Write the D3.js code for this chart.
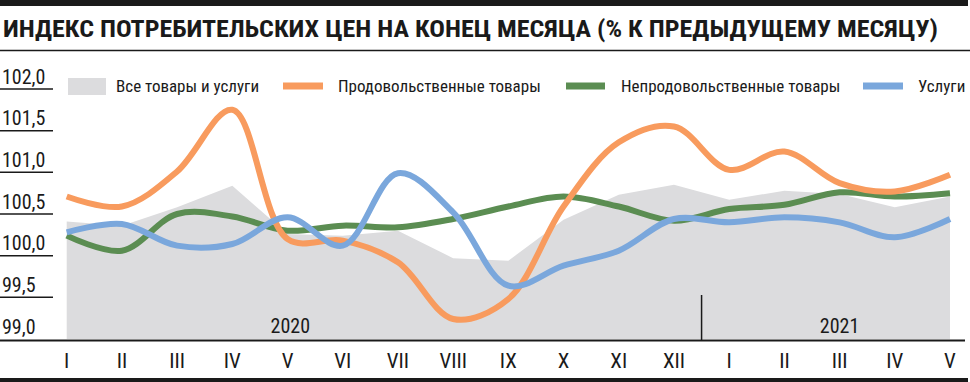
<!DOCTYPE html>
<html><head><meta charset="utf-8">
<script src="https://cdn.jsdelivr.net/npm/d3@7"></script>
<style>
html,body{margin:0;padding:0;background:#fff;}
svg text{font-family:"Liberation Sans Narrow","Roboto Condensed","DejaVu Sans Condensed",sans-serif;fill:#1a1a1a;}
</style></head>
<body>
<svg id="c" width="970" height="382"></svg>
<script>
const title = "ИНДЕКС ПОТРЕБИТЕЛЬСКИХ ЦЕН НА КОНЕЦ МЕСЯЦА (% К ПРЕДЫДУЩЕМУ МЕСЯЦУ)";
const months = ["I","II","III","IV","V","VI","VII","VIII","IX","X","XI","XII","I","II","III","IV","V"];
const years = [{label:"2020", from:0, to:11},{label:"2021", from:12, to:16}];
const yTicks = [99.0, 99.5, 100.0, 100.5, 101.0, 101.5, 102.0];
const seriesNames = ["Все товары и услуги","Продовольственные товары","Непродовольственные товары","Услуги"];
const allGoods = [100.41,100.36,100.58,100.84,100.26,100.24,100.30,99.97,99.94,100.43,100.73,100.85,100.67,100.78,100.74,100.58,100.71];
const food     = [100.71,100.59,101.01,101.75,100.20,100.18,99.92,99.24,99.48,100.59,101.36,101.55,101.03,101.25,100.87,100.77,100.97];
const nonFood  = [100.24,100.06,100.50,100.47,100.30,100.36,100.34,100.44,100.59,100.71,100.59,100.42,100.56,100.61,100.76,100.71,100.75];
const services = [100.28,100.38,100.12,100.14,100.46,100.12,100.99,100.52,99.64,99.88,100.06,100.44,100.40,100.46,100.40,100.22,100.44];

const colors = {area:"#dcdcde", food:"#f89b5e", nonFood:"#5b8d52", services:"#7aa7dc"};
const svg = d3.select("#c");

// frame
svg.append("rect").attr("x",0).attr("y",0).attr("width",968).attr("height",6).attr("fill","#1a1a1a");
svg.append("text").attr("x",3).attr("y",37).attr("font-size",23.5).attr("font-weight","bold")
  .attr("textLength",935).attr("lengthAdjust","spacingAndGlyphs").text(title);
svg.append("line").attr("x1",0).attr("x2",970).attr("y1",50.5).attr("y2",50.5).attr("stroke","#1a1a1a").attr("stroke-width",1.5);
svg.append("rect").attr("x",0).attr("y",378).attr("width",968).attr("height",4).attr("fill","#1a1a1a");

const x = d3.scalePoint().domain(d3.range(months.length)).range([66.7, 950]);
const y = d3.scaleLinear().domain([99, 102]).range([339, 89]);

// area
const area = d3.area().x((d,i)=>x(i)).y0(y(99)).y1(d=>y(d)).curve(d3.curveLinear);
svg.append("path").datum(allGoods).attr("d",area).attr("fill",colors.area);

// y axis labels with underline ticks
const yg = svg.append("g");
yTicks.forEach(t=>{
  if (t > 99) yg.append("line").attr("x1",0).attr("x2",53).attr("y1",y(t)).attr("y2",y(t)).attr("stroke","#1a1a1a").attr("stroke-width",1.5);
  yg.append("text").attr("x",2).attr("y",y(t)-5.5).attr("font-size",20).text(d3.format(".1f")(t).replace(".",","));
});

// lines
const line = d3.line().x((d,i)=>x(i)).y(d=>y(d)).curve(d3.curveCatmullRom.alpha(0.5));
[[nonFood,colors.nonFood],[food,colors.food],[services,colors.services]].forEach(([data,c])=>{
  svg.append("path").datum(data).attr("d",line).attr("fill","none").attr("stroke",c).attr("stroke-width",6).attr("stroke-linecap","butt");
});
// x axis line
svg.append("line").attr("x1",0).attr("x2",965).attr("y1",340.5).attr("y2",340.5).attr("stroke","#1a1a1a").attr("stroke-width",2);
// year divider
const divX = (x(11)+x(12))/2;
svg.append("line").attr("x1",divX).attr("x2",divX).attr("y1",295).attr("y2",340).attr("stroke","#1a1a1a").attr("stroke-width",1.5);
// year labels
years.forEach(yr=>{
  const cx = yr.label==="2020" ? (x(yr.from)+x(yr.to))/2 - 80 : (x(yr.from)+x(yr.to))/2;
  svg.append("text").attr("x",cx).attr("y",333).attr("text-anchor","middle").attr("font-size",20).text(yr.label);
});
// month labels
svg.append("g").selectAll("text").data(months).join("text")
  .attr("x",(d,i)=>x(i)).attr("y",368).attr("text-anchor","middle").attr("font-size",21).text(d=>d);

// legend
const lg = svg.append("g");
lg.append("rect").attr("x",68).attr("y",78).attr("width",38).attr("height",17).attr("fill",colors.area);
lg.append("text").attr("x",116).attr("y",92).attr("font-size",17).text(seriesNames[0]);
const legItems = [
  {x1:283,x2:323,tx:338,c:colors.food,name:seriesNames[1]},
  {x1:566,x2:605,tx:621,c:colors.nonFood,name:seriesNames[2]},
  {x1:863,x2:903,tx:918,c:colors.services,name:seriesNames[3]},
];
legItems.forEach(it=>{
  lg.append("line").attr("x1",it.x1).attr("x2",it.x2).attr("y1",86).attr("y2",86).attr("stroke",it.c).attr("stroke-width",7);
  lg.append("text").attr("x",it.tx).attr("y",92).attr("font-size",17).text(it.name);
});
</script>
</body></html>
